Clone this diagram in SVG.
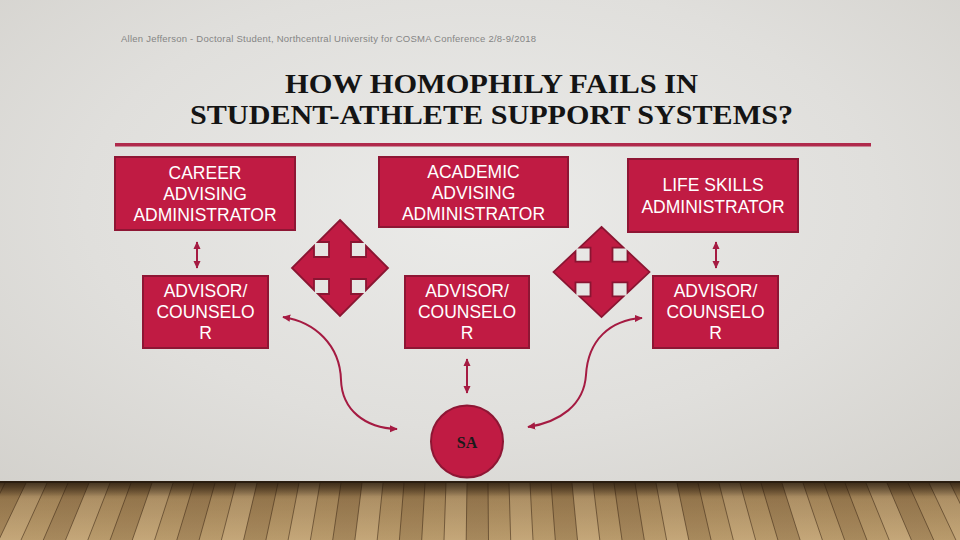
<svg xmlns="http://www.w3.org/2000/svg" width="960" height="540" viewBox="0 0 960 540">
<defs>
<radialGradient id="wall" cx="50%" cy="38%" r="75%">
<stop offset="0" stop-color="#ebebe9"/>
<stop offset="0.55" stop-color="#e0dfdc"/>
<stop offset="1" stop-color="#d2d0cb"/>
</radialGradient>
<linearGradient id="floor" x1="0" y1="0" x2="0" y2="1">
<stop offset="0" stop-color="#7d5f3a"/>
<stop offset="0.3" stop-color="#b39262"/>
<stop offset="1" stop-color="#b99b6c"/>
</linearGradient>
<linearGradient id="shade" x1="0" y1="0" x2="0" y2="1">
<stop offset="0" stop-color="#1e140a" stop-opacity="0.7"/>
<stop offset="0.25" stop-color="#1e140a" stop-opacity="0.12"/>
<stop offset="1" stop-color="#1e140a" stop-opacity="0"/>
</linearGradient>
<marker id="ah" viewBox="0 0 10 10" refX="9" refY="5" markerWidth="8" markerHeight="8" markerUnits="userSpaceOnUse" orient="auto-start-reverse">
<path d="M0,0.5 L10,5 L0,9.5 z" fill="#a51b42"/>
</marker>
<polygon id="quad" points="0,-48 22,-26 11,-26 11,-11 26,-11 26,-22 48,0 26,22 26,11 11,11 11,26 22,26 0,48 -22,26 -11,26 -11,11 -26,11 -26,22 -48,0 -26,-22 -26,-11 -11,-11 -11,-26 -22,-26"/>
</defs>
<style>
.box{fill:#c01b43;stroke:#8e1634;stroke-width:2}
.bt{font-family:"Liberation Sans",Arial,sans-serif;font-size:17.5px;fill:#ffffff;text-anchor:middle}
.con{fill:none;stroke:#a51b42;stroke-width:2;marker-start:url(#ah);marker-end:url(#ah)}
.qa{fill:#c01b43;stroke:#8a1532;stroke-width:1.8;stroke-linejoin:miter}
.k1{fill:#6e4c28;opacity:0.22}
.k2{fill:#e6cc9e;opacity:0.25}
.k3{fill:#5e4124;opacity:0.2}
</style>

<rect x="0" y="0" width="960" height="540" fill="url(#wall)"/>

<g id="floor-area">
<rect x="0" y="482" width="960" height="58" fill="url(#floor)"/>
<polygon class="k1" points="5,483 26,483 -1.2,540 -23.5,540"/>
<polygon class="k2" points="26,483 47,483 21,540 -1.2,540"/>
<polygon class="k3" points="68,483 89,483 65.5,540 43.3,540"/>
<polygon class="k2" points="89,483 110,483 87.8,540 65.5,540"/>
<polygon class="k1" points="131,483 152,483 132.3,540 110.1,540"/>
<polygon class="k2" points="152,483 173,483 154.6,540 132.3,540"/>
<polygon class="k3" points="194,483 215,483 199.1,540 176.8,540"/>
<polygon class="k2" points="236,483 257,483 243.6,540 221.4,540"/>
<polygon class="k1" points="257,483 278,483 265.9,540 243.6,540"/>
<polygon class="k2" points="299,483 320,483 310.4,540 288.1,540"/>
<polygon class="k3" points="341,483 362,483 354.9,540 332.7,540"/>
<polygon class="k2" points="362,483 383,483 377.2,540 354.9,540"/>
<polygon class="k1" points="404,483 425,483 421.7,540 399.4,540"/>
<polygon class="k2" points="446,483 467,483 466.2,540 444,540"/>
<polygon class="k3" points="467,483 488,483 488.5,540 466.2,540"/>
<polygon class="k2" points="509,483 530,483 533,540 510.7,540"/>
<polygon class="k1" points="551,483 572,483 577.5,540 555.3,540"/>
<polygon class="k2" points="572,483 593,483 599.8,540 577.5,540"/>
<polygon class="k3" points="614,483 635,483 644.3,540 622,540"/>
<polygon class="k2" points="656,483 677,483 688.8,540 666.6,540"/>
<polygon class="k1" points="677,483 698,483 711.1,540 688.8,540"/>
<polygon class="k2" points="719,483 740,483 755.6,540 733.3,540"/>
<polygon class="k3" points="761,483 782,483 800.1,540 777.9,540"/>
<polygon class="k2" points="782,483 803,483 822.4,540 800.1,540"/>
<polygon class="k1" points="824,483 845,483 866.9,540 844.6,540"/>
<polygon class="k2" points="866,483 887,483 911.4,540 889.2,540"/>
<polygon class="k3" points="887,483 908,483 933.7,540 911.4,540"/>
<polygon class="k2" points="929,483 950,483 978.2,540 955.9,540"/>
<path fill="none" stroke="#3e2a16" stroke-width="0.8" stroke-opacity="0.7" d="M5,483L-23.5,540M26,483L-1.2,540M47,483L21,540M68,483L43.3,540M89,483L65.5,540M110,483L87.8,540M131,483L110.1,540M152,483L132.3,540M173,483L154.6,540M194,483L176.8,540M215,483L199.1,540M236,483L221.4,540M257,483L243.6,540M278,483L265.9,540M299,483L288.1,540M320,483L310.4,540M341,483L332.7,540M362,483L354.9,540M383,483L377.2,540M404,483L399.4,540M425,483L421.7,540M446,483L444,540M467,483L466.2,540M488,483L488.5,540M509,483L510.7,540M530,483L533,540M551,483L555.3,540M572,483L577.5,540M593,483L599.8,540M614,483L622,540M635,483L644.3,540M656,483L666.6,540M677,483L688.8,540M698,483L711.1,540M719,483L733.3,540M740,483L755.6,540M761,483L777.9,540M782,483L800.1,540M803,483L822.4,540M824,483L844.6,540M845,483L866.9,540M866,483L889.2,540M887,483L911.4,540M908,483L933.7,540M929,483L955.9,540M950,483L978.2,540"/>
<rect x="0" y="482" width="960" height="58" fill="url(#shade)"/>
<rect x="0" y="481" width="960" height="2" fill="#2a1d10"/>
</g>

<g id="header">
<text x="121" y="42" font-family="'Liberation Sans',Arial,sans-serif" font-size="9.5" fill="#858585" textLength="415" lengthAdjust="spacing">Allen Jefferson - Doctoral Student, Northcentral University for COSMA Conference 2/8-9/2018</text>
</g>

<g id="title" font-family="'Liberation Serif','Times New Roman',serif" font-size="27" font-weight="bold" fill="#141414" text-anchor="middle">
<text x="491.5" y="93" textLength="413" lengthAdjust="spacingAndGlyphs">HOW HOMOPHILY FAILS IN</text>
<text x="491.5" y="124" textLength="603" lengthAdjust="spacingAndGlyphs">STUDENT-ATHLETE SUPPORT SYSTEMS?</text>
<rect x="115" y="143" width="756" height="3.5" fill="#b02a4c"/>
</g>

<g id="career-admin">
<rect class="box" x="115" y="157" width="180" height="73"/>
<text class="bt" x="205" y="179">CAREER</text>
<text class="bt" x="205" y="200">ADVISING</text>
<text class="bt" x="205" y="221">ADMINISTRATOR</text>
</g>

<g id="academic-admin">
<rect class="box" x="379" y="157" width="189" height="70"/>
<text class="bt" x="473.5" y="178">ACADEMIC</text>
<text class="bt" x="473.5" y="199">ADVISING</text>
<text class="bt" x="473.5" y="220">ADMINISTRATOR</text>
</g>

<g id="life-admin">
<rect class="box" x="628" y="159" width="170" height="73"/>
<text class="bt" x="713" y="191">LIFE SKILLS</text>
<text class="bt" x="713" y="213">ADMINISTRATOR</text>
</g>

<g id="advisor-1">
<rect class="box" x="143" y="276" width="125" height="72"/>
<text class="bt" x="205.5" y="297">ADVISOR/</text>
<text class="bt" x="205.5" y="318">COUNSELO</text>
<text class="bt" x="205.5" y="339">R</text>
</g>

<g id="advisor-2">
<rect class="box" x="405" y="276" width="124" height="72"/>
<text class="bt" x="467" y="297">ADVISOR/</text>
<text class="bt" x="467" y="318">COUNSELO</text>
<text class="bt" x="467" y="339">R</text>
</g>

<g id="advisor-3">
<rect class="box" x="653" y="276" width="125" height="72"/>
<text class="bt" x="715.5" y="297">ADVISOR/</text>
<text class="bt" x="715.5" y="318">COUNSELO</text>
<text class="bt" x="715.5" y="339">R</text>
</g>

<g id="quad-arrow-1">
<use href="#quad" class="qa" transform="translate(340,268)"/>
</g>

<g id="quad-arrow-2">
<use href="#quad" class="qa" transform="translate(601.5,272) scale(1,0.94)"/>
</g>

<g id="sa">
<circle cx="467" cy="441.5" r="36" fill="#c01b43" stroke="#8e1634" stroke-width="2"/>
<text x="467" y="447.5" font-family="'Liberation Serif','Times New Roman',serif" font-size="16" font-weight="bold" fill="#1a1a1a" text-anchor="middle">SA</text>
</g>

<g id="connectors">
<line class="con" x1="197" y1="242" x2="197" y2="268"/>
<line class="con" x1="716" y1="242" x2="716" y2="268"/>
<line class="con" x1="467" y1="359" x2="467" y2="393"/>
<path class="con" d="M283,317 C315,322 340,345 341,380 C342,410 365,428 397,429"/>
<path class="con" d="M642,318 C610,320 588,340 586,375 C584,405 560,422 528,427"/>
</g>
</svg>
